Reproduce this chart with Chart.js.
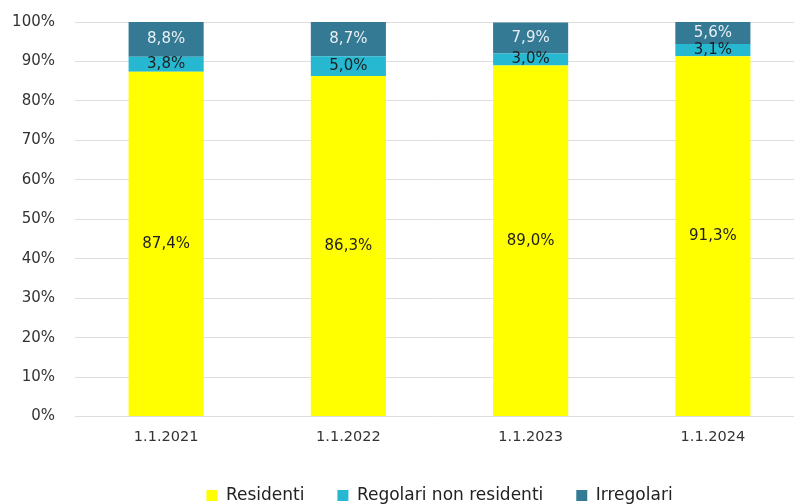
<!DOCTYPE html>
<html>
<head>
<meta charset="utf-8">
<script src="https://cdn.jsdelivr.net/npm/chart.js@4.4.1/dist/chart.umd.min.js"></script>
<style>
  html, body { margin: 0; padding: 0; background: #fff; overflow: hidden; }
  #wrap { position: relative; width: 804px; height: 504px; }
</style>
</head>
<body>
<div id="wrap"><canvas id="chart"></canvas></div>
<script>
// dati
const categorie = ['1.1.2021', '1.1.2022', '1.1.2023', '1.1.2024'];
const residenti = [87.4, 86.3, 89.0, 91.3];
const regolariNonResidenti = [3.8, 5.0, 3.0, 3.1];
const irregolari = [8.8, 8.7, 7.9, 5.6];
const yTicks = [0, 10, 20, 30, 40, 50, 60, 70, 80, 90, 100];

Chart.defaults.font.family = "'DejaVu Sans', sans-serif";
Chart.defaults.color = '#333';

// etichette dentro le barre
const etichette = {
    id: 'etichette',
    afterDatasetsDraw(chart) {
        const ctx = chart.ctx;
        ctx.save();
        ctx.font = "15px 'DejaVu Sans', sans-serif";
        ctx.textAlign = 'center';
        ctx.textBaseline = 'middle';
        chart.data.datasets.forEach((ds, i) => {
            chart.getDatasetMeta(i).data.forEach((bar, j) => {
                const v = ds.data[j];
                ctx.fillStyle = ds.labelColor;
                const y = (bar.y + bar.base) / 2;
                ctx.fillText(v.toFixed(1).replace('.', ',') + '%', bar.x, y);
            });
        });
        ctx.restore();
    }
};

// legenda un po' più bassa
const legendaBassa = {
    id: 'legendaBassa',
    afterInit(chart) {
        const lg = chart.legend;
        const fit = lg.fit;
        lg.fit = function () {
            fit.call(this);
            this.height -= 10;
        };
    }
};

const ctx = document.getElementById('chart').getContext('2d');
new Chart(ctx, {
    type: 'bar',
    data: {
        labels: categorie,
        datasets: [
            { label: 'Residenti', data: residenti, backgroundColor: '#ffff00', labelColor: '#1e1e1e', borderWidth: 0 },
            { label: 'Regolari non residenti', data: regolariNonResidenti, backgroundColor: '#27b8d1', labelColor: '#1e1e1e', borderWidth: 0 },
            { label: 'Irregolari', data: irregolari, backgroundColor: '#347a94', labelColor: '#e9eff3', borderWidth: 0 }
        ]
    },
    options: {
        responsive: true,
        maintainAspectRatio: false,
        animation: false,
        categoryPercentage: 1,
        barPercentage: 0.412,
        layout: { padding: { left: 11, right: 0, top: 22, bottom: 0 } },
        plugins: {
            legend: {
                position: 'bottom',
                fullSize: false,
                labels: {
                    boxWidth: 11,
                    boxHeight: 11,
                    padding: 33,
                    color: '#222',
                    font: { size: 17 }
                }
            },
            tooltip: { enabled: false }
        },
        scales: {
            x: {
                stacked: true,
                grid: { display: false },
                border: { display: false },
                ticks: { font: { size: 14.5 }, color: '#333', padding: 4 },
                afterFit: (axis) => { axis.height += 4; }
            },
            y: {
                stacked: true,
                min: 0,
                max: 100,
                afterBuildTicks: (axis) => { axis.ticks = yTicks.map(v => ({ value: v })); },
                afterFit: (axis) => { axis.width = 64; axis.paddingTop = 0; axis.paddingBottom = 0; },
                grid: { color: '#dedede', drawTicks: false },
                border: { display: false },
                ticks: { font: { size: 15 }, color: '#333', padding: 20, callback: (v) => v + '%' }
            }
        }
    },
    plugins: [etichette, legendaBassa]
});
</script>
</body>
</html>
